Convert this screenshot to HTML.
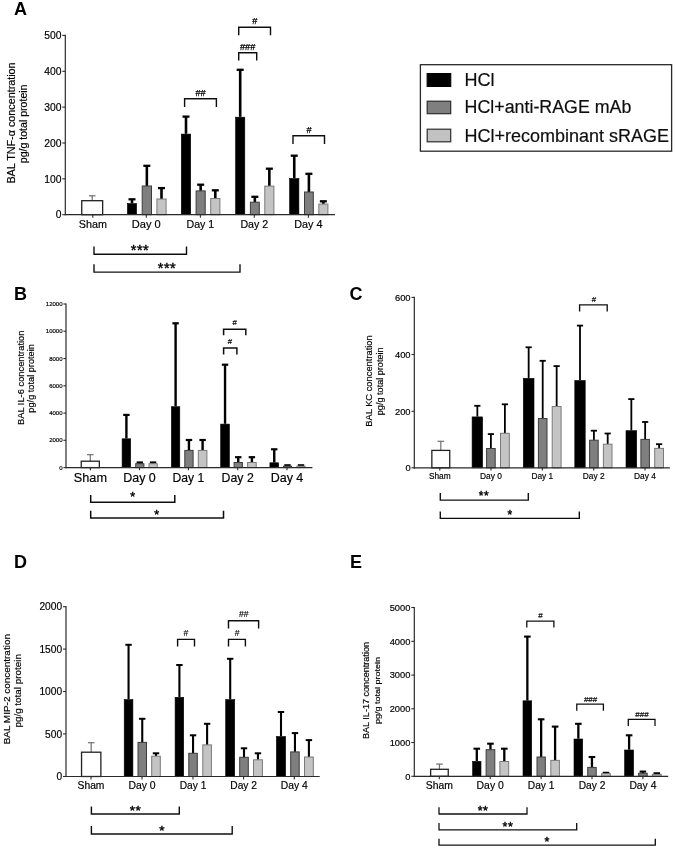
<!DOCTYPE html>
<html lang="en">
<head>
<meta charset="utf-8">
<title>Figure: BAL cytokine concentrations</title>
<style>
html,body{margin:0;padding:0;background:#fff;}
body{width:675px;height:848px;overflow:hidden;}
svg{display:block;font-family:'Liberation Sans', Arial, Helvetica, sans-serif;}
</style>
</head>
<body>
<svg width="675" height="848" viewBox="0 0 675 848" font-family="Liberation Sans, Arial, sans-serif">
<defs><filter id="soft" x="0" y="0" width="675" height="848" filterUnits="userSpaceOnUse"><feGaussianBlur stdDeviation="0.38"/></filter></defs>
<rect width="675" height="848" fill="#ffffff"/>
<g filter="url(#soft)">
<line x1="92.20" y1="200.70" x2="92.20" y2="195.50" stroke="#707070" stroke-width="1.2" stroke-linecap="butt"/>
<line x1="88.90" y1="195.80" x2="95.50" y2="195.80" stroke="#707070" stroke-width="1.2" stroke-linecap="butt"/>
<rect x="81.75" y="200.70" width="20.90" height="14.00" fill="#ffffff" stroke="#222222" stroke-width="1.3"/>
<line x1="132.00" y1="203.20" x2="132.00" y2="199.00" stroke="#000" stroke-width="2.6" stroke-linecap="butt"/>
<line x1="128.50" y1="199.30" x2="135.50" y2="199.30" stroke="#000" stroke-width="2.3" stroke-linecap="butt"/>
<rect x="127.40" y="203.50" width="9.20" height="11.20" fill="#000000" stroke="#000000" stroke-width="0.6"/>
<line x1="146.85" y1="186.00" x2="146.85" y2="165.50" stroke="#000" stroke-width="2.6" stroke-linecap="butt"/>
<line x1="143.35" y1="165.80" x2="150.35" y2="165.80" stroke="#000" stroke-width="2.3" stroke-linecap="butt"/>
<rect x="142.20" y="186.00" width="9.30" height="28.70" fill="#7f7f7f" stroke="#3c3c3c" stroke-width="1.0"/>
<line x1="161.50" y1="199.00" x2="161.50" y2="187.80" stroke="#000" stroke-width="2.6" stroke-linecap="butt"/>
<line x1="158.00" y1="188.10" x2="165.00" y2="188.10" stroke="#000" stroke-width="2.3" stroke-linecap="butt"/>
<rect x="156.90" y="199.00" width="9.20" height="15.70" fill="#c4c4c4" stroke="#7a7a7a" stroke-width="1.0"/>
<line x1="186.00" y1="133.80" x2="186.00" y2="116.30" stroke="#000" stroke-width="2.6" stroke-linecap="butt"/>
<line x1="182.50" y1="116.60" x2="189.50" y2="116.60" stroke="#000" stroke-width="2.3" stroke-linecap="butt"/>
<rect x="181.30" y="134.10" width="9.40" height="80.60" fill="#000000" stroke="#000000" stroke-width="0.6"/>
<line x1="200.65" y1="190.90" x2="200.65" y2="184.40" stroke="#000" stroke-width="2.6" stroke-linecap="butt"/>
<line x1="197.15" y1="184.70" x2="204.15" y2="184.70" stroke="#000" stroke-width="2.3" stroke-linecap="butt"/>
<rect x="196.10" y="190.90" width="9.10" height="23.80" fill="#7f7f7f" stroke="#3c3c3c" stroke-width="1.0"/>
<line x1="215.30" y1="198.50" x2="215.30" y2="190.00" stroke="#000" stroke-width="2.6" stroke-linecap="butt"/>
<line x1="211.80" y1="190.30" x2="218.80" y2="190.30" stroke="#000" stroke-width="2.3" stroke-linecap="butt"/>
<rect x="210.70" y="198.50" width="9.20" height="16.20" fill="#c4c4c4" stroke="#7a7a7a" stroke-width="1.0"/>
<line x1="240.20" y1="116.90" x2="240.20" y2="69.50" stroke="#000" stroke-width="2.6" stroke-linecap="butt"/>
<line x1="236.70" y1="69.80" x2="243.70" y2="69.80" stroke="#000" stroke-width="2.3" stroke-linecap="butt"/>
<rect x="235.60" y="117.20" width="9.20" height="97.50" fill="#000000" stroke="#000000" stroke-width="0.6"/>
<line x1="254.85" y1="202.20" x2="254.85" y2="196.50" stroke="#000" stroke-width="2.6" stroke-linecap="butt"/>
<line x1="251.35" y1="196.80" x2="258.35" y2="196.80" stroke="#000" stroke-width="2.3" stroke-linecap="butt"/>
<rect x="250.40" y="202.20" width="8.90" height="12.50" fill="#7f7f7f" stroke="#3c3c3c" stroke-width="1.0"/>
<line x1="269.35" y1="186.10" x2="269.35" y2="168.40" stroke="#000" stroke-width="2.6" stroke-linecap="butt"/>
<line x1="265.85" y1="168.70" x2="272.85" y2="168.70" stroke="#000" stroke-width="2.3" stroke-linecap="butt"/>
<rect x="264.80" y="186.10" width="9.10" height="28.60" fill="#c4c4c4" stroke="#7a7a7a" stroke-width="1.0"/>
<line x1="294.25" y1="178.20" x2="294.25" y2="155.40" stroke="#000" stroke-width="2.6" stroke-linecap="butt"/>
<line x1="290.75" y1="155.70" x2="297.75" y2="155.70" stroke="#000" stroke-width="2.3" stroke-linecap="butt"/>
<rect x="289.60" y="178.50" width="9.30" height="36.20" fill="#000000" stroke="#000000" stroke-width="0.6"/>
<line x1="308.90" y1="192.00" x2="308.90" y2="173.50" stroke="#000" stroke-width="2.6" stroke-linecap="butt"/>
<line x1="305.40" y1="173.80" x2="312.40" y2="173.80" stroke="#000" stroke-width="2.3" stroke-linecap="butt"/>
<rect x="304.50" y="192.00" width="8.80" height="22.70" fill="#7f7f7f" stroke="#3c3c3c" stroke-width="1.0"/>
<line x1="323.35" y1="204.10" x2="323.35" y2="201.00" stroke="#000" stroke-width="2.6" stroke-linecap="butt"/>
<line x1="319.85" y1="201.30" x2="326.85" y2="201.30" stroke="#000" stroke-width="2.3" stroke-linecap="butt"/>
<rect x="318.80" y="204.10" width="9.10" height="10.60" fill="#c4c4c4" stroke="#7a7a7a" stroke-width="1.0"/>
<line x1="65.30" y1="34.80" x2="65.30" y2="215.30" stroke="#2a2a2a" stroke-width="1.2" stroke-linecap="butt"/>
<line x1="64.70" y1="214.70" x2="335.00" y2="214.70" stroke="#2a2a2a" stroke-width="1.2" stroke-linecap="butt"/>
<line x1="62.30" y1="214.70" x2="65.30" y2="214.70" stroke="#2a2a2a" stroke-width="1.08" stroke-linecap="butt"/>
<text x="61.40" y="218.41" font-size="10.3" text-anchor="end" font-weight="normal" fill="#000" stroke="#000" stroke-width="0.18">0</text>
<line x1="62.30" y1="178.85" x2="65.30" y2="178.85" stroke="#2a2a2a" stroke-width="1.08" stroke-linecap="butt"/>
<text x="61.40" y="182.56" font-size="10.3" text-anchor="end" font-weight="normal" fill="#000" stroke="#000" stroke-width="0.18">100</text>
<line x1="62.30" y1="143.00" x2="65.30" y2="143.00" stroke="#2a2a2a" stroke-width="1.08" stroke-linecap="butt"/>
<text x="61.40" y="146.71" font-size="10.3" text-anchor="end" font-weight="normal" fill="#000" stroke="#000" stroke-width="0.18">200</text>
<line x1="62.30" y1="107.10" x2="65.30" y2="107.10" stroke="#2a2a2a" stroke-width="1.08" stroke-linecap="butt"/>
<text x="61.40" y="110.81" font-size="10.3" text-anchor="end" font-weight="normal" fill="#000" stroke="#000" stroke-width="0.18">300</text>
<line x1="62.30" y1="71.30" x2="65.30" y2="71.30" stroke="#2a2a2a" stroke-width="1.08" stroke-linecap="butt"/>
<text x="61.40" y="75.01" font-size="10.3" text-anchor="end" font-weight="normal" fill="#000" stroke="#000" stroke-width="0.18">400</text>
<line x1="62.30" y1="35.40" x2="65.30" y2="35.40" stroke="#2a2a2a" stroke-width="1.08" stroke-linecap="butt"/>
<text x="61.40" y="39.11" font-size="10.3" text-anchor="end" font-weight="normal" fill="#000" stroke="#000" stroke-width="0.18">500</text>
<line x1="92.80" y1="214.70" x2="92.80" y2="217.70" stroke="#2a2a2a" stroke-width="1.08" stroke-linecap="butt"/>
<text x="92.80" y="228.00" font-size="11" text-anchor="middle" font-weight="normal" fill="#000" textLength="28.20" lengthAdjust="spacingAndGlyphs" stroke="#000" stroke-width="0.18">Sham</text>
<line x1="146.30" y1="214.70" x2="146.30" y2="217.70" stroke="#2a2a2a" stroke-width="1.08" stroke-linecap="butt"/>
<text x="146.30" y="228.00" font-size="11" text-anchor="middle" font-weight="normal" fill="#000" textLength="29.00" lengthAdjust="spacingAndGlyphs" stroke="#000" stroke-width="0.18">Day 0</text>
<line x1="200.40" y1="214.70" x2="200.40" y2="217.70" stroke="#2a2a2a" stroke-width="1.08" stroke-linecap="butt"/>
<text x="200.40" y="228.00" font-size="11" text-anchor="middle" font-weight="normal" fill="#000" textLength="27.80" lengthAdjust="spacingAndGlyphs" stroke="#000" stroke-width="0.18">Day 1</text>
<line x1="254.30" y1="214.70" x2="254.30" y2="217.70" stroke="#2a2a2a" stroke-width="1.08" stroke-linecap="butt"/>
<text x="254.30" y="228.00" font-size="11" text-anchor="middle" font-weight="normal" fill="#000" textLength="27.80" lengthAdjust="spacingAndGlyphs" stroke="#000" stroke-width="0.18">Day 2</text>
<line x1="308.40" y1="214.70" x2="308.40" y2="217.70" stroke="#2a2a2a" stroke-width="1.08" stroke-linecap="butt"/>
<text x="308.40" y="228.00" font-size="11" text-anchor="middle" font-weight="normal" fill="#000" textLength="28.20" lengthAdjust="spacingAndGlyphs" stroke="#000" stroke-width="0.18">Day 4</text>
<polyline points="238.70,35.20 238.70,27.20 270.50,27.20 270.50,35.20" fill="none" stroke="#101010" stroke-width="1.4"/>
<text x="254.80" y="23.95" font-size="9.2" text-anchor="middle" font-weight="normal" fill="#000" stroke="#000" stroke-width="0.25">#</text>
<polyline points="238.70,60.50 238.70,52.70 256.70,52.70 256.70,60.50" fill="none" stroke="#101010" stroke-width="1.4"/>
<text x="247.60" y="49.65" font-size="9.2" text-anchor="middle" font-weight="normal" fill="#000" stroke="#000" stroke-width="0.25">###</text>
<polyline points="184.60,107.00 184.60,98.80 216.40,98.80 216.40,107.00" fill="none" stroke="#101010" stroke-width="1.4"/>
<text x="200.60" y="95.55" font-size="9.2" text-anchor="middle" font-weight="normal" fill="#000" stroke="#000" stroke-width="0.25">##</text>
<polyline points="293.00,144.00 293.00,135.80 324.50,135.80 324.50,144.00" fill="none" stroke="#101010" stroke-width="1.4"/>
<text x="309.00" y="132.65" font-size="9.2" text-anchor="middle" font-weight="normal" fill="#000" stroke="#000" stroke-width="0.25">#</text>
<polyline points="94.00,246.40 94.00,254.30 186.50,254.30 186.50,246.40" fill="none" stroke="#101010" stroke-width="1.4"/>
<text x="140.00" y="255.10" font-size="14.5" text-anchor="middle" font-weight="normal" fill="#000" stroke="#000" stroke-width="0.42" letter-spacing="0.5">***</text>
<polyline points="94.00,264.30 94.00,272.10 240.00,272.10 240.00,264.30" fill="none" stroke="#101010" stroke-width="1.4"/>
<text x="167.00" y="272.90" font-size="14.5" text-anchor="middle" font-weight="normal" fill="#000" stroke="#000" stroke-width="0.42" letter-spacing="0.5">***</text>
<text x="14.00" y="15.10" font-size="18" text-anchor="start" font-weight="bold" fill="#000">A</text>
<text transform="translate(15.10,123.00) rotate(-90)" font-size="10.75" text-anchor="middle" fill="#000" stroke="#000" stroke-width="0.18" textLength="121.20" lengthAdjust="spacingAndGlyphs">BAL TNF-α concentration</text>
<text transform="translate(27.30,123.85) rotate(-90)" font-size="10.75" text-anchor="middle" fill="#000" stroke="#000" stroke-width="0.18" textLength="78.70" lengthAdjust="spacingAndGlyphs">pg/g total protein</text>
<line x1="90.30" y1="461.20" x2="90.30" y2="454.40" stroke="#707070" stroke-width="1.2" stroke-linecap="butt"/>
<line x1="87.00" y1="454.70" x2="93.60" y2="454.70" stroke="#707070" stroke-width="1.2" stroke-linecap="butt"/>
<rect x="81.25" y="461.20" width="18.10" height="6.40" fill="#ffffff" stroke="#222222" stroke-width="1.3"/>
<line x1="126.40" y1="438.50" x2="126.40" y2="414.60" stroke="#000" stroke-width="2.4" stroke-linecap="butt"/>
<line x1="123.20" y1="414.90" x2="129.60" y2="414.90" stroke="#000" stroke-width="2.2" stroke-linecap="butt"/>
<rect x="122.10" y="438.80" width="8.60" height="28.80" fill="#000000" stroke="#000000" stroke-width="0.6"/>
<line x1="139.80" y1="463.70" x2="139.80" y2="462.20" stroke="#000" stroke-width="2.4" stroke-linecap="butt"/>
<line x1="136.60" y1="462.50" x2="143.00" y2="462.50" stroke="#000" stroke-width="2.2" stroke-linecap="butt"/>
<rect x="135.70" y="463.70" width="8.20" height="3.90" fill="#7f7f7f" stroke="#3c3c3c" stroke-width="1.0"/>
<line x1="153.10" y1="463.70" x2="153.10" y2="462.20" stroke="#000" stroke-width="2.4" stroke-linecap="butt"/>
<line x1="149.90" y1="462.50" x2="156.30" y2="462.50" stroke="#000" stroke-width="2.2" stroke-linecap="butt"/>
<rect x="149.00" y="463.70" width="8.20" height="3.90" fill="#c4c4c4" stroke="#7a7a7a" stroke-width="1.0"/>
<line x1="175.60" y1="406.40" x2="175.60" y2="323.00" stroke="#000" stroke-width="2.4" stroke-linecap="butt"/>
<line x1="172.40" y1="323.30" x2="178.80" y2="323.30" stroke="#000" stroke-width="2.2" stroke-linecap="butt"/>
<rect x="171.40" y="406.70" width="8.40" height="60.90" fill="#000000" stroke="#000000" stroke-width="0.6"/>
<line x1="188.95" y1="450.40" x2="188.95" y2="439.70" stroke="#000" stroke-width="2.4" stroke-linecap="butt"/>
<line x1="185.75" y1="440.00" x2="192.15" y2="440.00" stroke="#000" stroke-width="2.2" stroke-linecap="butt"/>
<rect x="184.80" y="450.40" width="8.30" height="17.20" fill="#7f7f7f" stroke="#3c3c3c" stroke-width="1.0"/>
<line x1="202.60" y1="450.40" x2="202.60" y2="439.70" stroke="#000" stroke-width="2.4" stroke-linecap="butt"/>
<line x1="199.40" y1="440.00" x2="205.80" y2="440.00" stroke="#000" stroke-width="2.2" stroke-linecap="butt"/>
<rect x="198.30" y="450.40" width="8.60" height="17.20" fill="#c4c4c4" stroke="#7a7a7a" stroke-width="1.0"/>
<line x1="225.05" y1="423.80" x2="225.05" y2="364.40" stroke="#000" stroke-width="2.4" stroke-linecap="butt"/>
<line x1="221.85" y1="364.70" x2="228.25" y2="364.70" stroke="#000" stroke-width="2.2" stroke-linecap="butt"/>
<rect x="220.70" y="424.10" width="8.70" height="43.50" fill="#000000" stroke="#000000" stroke-width="0.6"/>
<line x1="238.25" y1="462.50" x2="238.25" y2="456.90" stroke="#000" stroke-width="2.4" stroke-linecap="butt"/>
<line x1="235.05" y1="457.20" x2="241.45" y2="457.20" stroke="#000" stroke-width="2.2" stroke-linecap="butt"/>
<rect x="234.10" y="462.50" width="8.30" height="5.10" fill="#7f7f7f" stroke="#3c3c3c" stroke-width="1.0"/>
<line x1="251.90" y1="462.50" x2="251.90" y2="456.90" stroke="#000" stroke-width="2.4" stroke-linecap="butt"/>
<line x1="248.70" y1="457.20" x2="255.10" y2="457.20" stroke="#000" stroke-width="2.2" stroke-linecap="butt"/>
<rect x="247.60" y="462.50" width="8.60" height="5.10" fill="#c4c4c4" stroke="#7a7a7a" stroke-width="1.0"/>
<line x1="274.25" y1="462.50" x2="274.25" y2="449.00" stroke="#000" stroke-width="2.4" stroke-linecap="butt"/>
<line x1="271.05" y1="449.30" x2="277.45" y2="449.30" stroke="#000" stroke-width="2.2" stroke-linecap="butt"/>
<rect x="269.90" y="462.80" width="8.70" height="4.80" fill="#000000" stroke="#000000" stroke-width="0.6"/>
<line x1="287.50" y1="466.20" x2="287.50" y2="465.00" stroke="#000" stroke-width="2.4" stroke-linecap="butt"/>
<line x1="284.30" y1="465.30" x2="290.70" y2="465.30" stroke="#000" stroke-width="2.2" stroke-linecap="butt"/>
<rect x="283.50" y="466.20" width="8.00" height="1.40" fill="#7f7f7f" stroke="#3c3c3c" stroke-width="1.0"/>
<line x1="301.00" y1="466.20" x2="301.00" y2="465.00" stroke="#000" stroke-width="2.4" stroke-linecap="butt"/>
<line x1="297.80" y1="465.30" x2="304.20" y2="465.30" stroke="#000" stroke-width="2.2" stroke-linecap="butt"/>
<rect x="296.90" y="466.20" width="8.20" height="1.40" fill="#c4c4c4" stroke="#7a7a7a" stroke-width="1.0"/>
<line x1="66.00" y1="303.40" x2="66.00" y2="468.20" stroke="#2a2a2a" stroke-width="1.2" stroke-linecap="butt"/>
<line x1="65.40" y1="467.60" x2="312.40" y2="467.60" stroke="#2a2a2a" stroke-width="1.2" stroke-linecap="butt"/>
<line x1="63.40" y1="467.60" x2="66.00" y2="467.60" stroke="#2a2a2a" stroke-width="1.08" stroke-linecap="butt"/>
<text x="62.50" y="469.76" font-size="6.0" text-anchor="end" font-weight="normal" fill="#000" stroke="#000" stroke-width="0.18">0</text>
<line x1="63.40" y1="440.30" x2="66.00" y2="440.30" stroke="#2a2a2a" stroke-width="1.08" stroke-linecap="butt"/>
<text x="62.50" y="442.46" font-size="6.0" text-anchor="end" font-weight="normal" fill="#000" stroke="#000" stroke-width="0.18">2000</text>
<line x1="63.40" y1="413.10" x2="66.00" y2="413.10" stroke="#2a2a2a" stroke-width="1.08" stroke-linecap="butt"/>
<text x="62.50" y="415.26" font-size="6.0" text-anchor="end" font-weight="normal" fill="#000" stroke="#000" stroke-width="0.18">4000</text>
<line x1="63.40" y1="385.80" x2="66.00" y2="385.80" stroke="#2a2a2a" stroke-width="1.08" stroke-linecap="butt"/>
<text x="62.50" y="387.96" font-size="6.0" text-anchor="end" font-weight="normal" fill="#000" stroke="#000" stroke-width="0.18">6000</text>
<line x1="63.40" y1="358.60" x2="66.00" y2="358.60" stroke="#2a2a2a" stroke-width="1.08" stroke-linecap="butt"/>
<text x="62.50" y="360.76" font-size="6.0" text-anchor="end" font-weight="normal" fill="#000" stroke="#000" stroke-width="0.18">8000</text>
<line x1="63.40" y1="331.20" x2="66.00" y2="331.20" stroke="#2a2a2a" stroke-width="1.08" stroke-linecap="butt"/>
<text x="62.50" y="333.36" font-size="6.0" text-anchor="end" font-weight="normal" fill="#000" stroke="#000" stroke-width="0.18">10000</text>
<line x1="63.40" y1="304.00" x2="66.00" y2="304.00" stroke="#2a2a2a" stroke-width="1.08" stroke-linecap="butt"/>
<text x="62.50" y="306.16" font-size="6.0" text-anchor="end" font-weight="normal" fill="#000" stroke="#000" stroke-width="0.18">12000</text>
<line x1="90.40" y1="467.60" x2="90.40" y2="470.20" stroke="#2a2a2a" stroke-width="1.08" stroke-linecap="butt"/>
<text x="90.40" y="482.40" font-size="12.7" text-anchor="middle" font-weight="normal" fill="#000" textLength="33.20" lengthAdjust="spacingAndGlyphs" stroke="#000" stroke-width="0.18">Sham</text>
<line x1="139.50" y1="467.60" x2="139.50" y2="470.20" stroke="#2a2a2a" stroke-width="1.08" stroke-linecap="butt"/>
<text x="139.50" y="482.40" font-size="12.7" text-anchor="middle" font-weight="normal" fill="#000" textLength="32.60" lengthAdjust="spacingAndGlyphs" stroke="#000" stroke-width="0.18">Day 0</text>
<line x1="188.40" y1="467.60" x2="188.40" y2="470.20" stroke="#2a2a2a" stroke-width="1.08" stroke-linecap="butt"/>
<text x="188.40" y="482.40" font-size="12.7" text-anchor="middle" font-weight="normal" fill="#000" textLength="31.80" lengthAdjust="spacingAndGlyphs" stroke="#000" stroke-width="0.18">Day 1</text>
<line x1="237.70" y1="467.60" x2="237.70" y2="470.20" stroke="#2a2a2a" stroke-width="1.08" stroke-linecap="butt"/>
<text x="237.70" y="482.40" font-size="12.7" text-anchor="middle" font-weight="normal" fill="#000" textLength="32.20" lengthAdjust="spacingAndGlyphs" stroke="#000" stroke-width="0.18">Day 2</text>
<line x1="287.00" y1="467.60" x2="287.00" y2="470.20" stroke="#2a2a2a" stroke-width="1.08" stroke-linecap="butt"/>
<text x="287.00" y="482.40" font-size="12.7" text-anchor="middle" font-weight="normal" fill="#000" textLength="32.60" lengthAdjust="spacingAndGlyphs" stroke="#000" stroke-width="0.18">Day 4</text>
<polyline points="223.60,335.30 223.60,329.20 245.80,329.20 245.80,335.30" fill="none" stroke="#101010" stroke-width="1.5"/>
<text x="234.60" y="324.87" font-size="7.8" text-anchor="middle" font-weight="normal" fill="#000" stroke="#000" stroke-width="0.18">#</text>
<polyline points="223.60,354.60 223.60,348.00 236.90,348.00 236.90,354.60" fill="none" stroke="#101010" stroke-width="1.5"/>
<text x="230.00" y="344.17" font-size="7.8" text-anchor="middle" font-weight="normal" fill="#000" stroke="#000" stroke-width="0.18">#</text>
<polyline points="90.70,495.00 90.70,502.30 174.80,502.30 174.80,495.00" fill="none" stroke="#101010" stroke-width="1.5"/>
<text x="132.60" y="501.21" font-size="12.5" text-anchor="middle" font-weight="normal" fill="#000" stroke="#000" stroke-width="0.42">*</text>
<polyline points="90.70,510.80 90.70,518.00 223.50,518.00 223.50,510.80" fill="none" stroke="#101010" stroke-width="1.5"/>
<text x="156.70" y="518.51" font-size="12.5" text-anchor="middle" font-weight="normal" fill="#000" stroke="#000" stroke-width="0.42">*</text>
<text x="14.00" y="300.20" font-size="18" text-anchor="start" font-weight="bold" fill="#000">B</text>
<text transform="translate(23.70,377.80) rotate(-90)" font-size="9.3" text-anchor="middle" fill="#000" stroke="#000" stroke-width="0.18" textLength="94.40" lengthAdjust="spacingAndGlyphs">BAL IL-6 concentration</text>
<text transform="translate(34.30,378.40) rotate(-90)" font-size="9.3" text-anchor="middle" fill="#000" stroke="#000" stroke-width="0.18" textLength="68.50" lengthAdjust="spacingAndGlyphs">pg/g total protein</text>
<line x1="440.80" y1="450.40" x2="440.80" y2="441.00" stroke="#707070" stroke-width="1.2" stroke-linecap="butt"/>
<line x1="437.50" y1="441.30" x2="444.10" y2="441.30" stroke="#707070" stroke-width="1.2" stroke-linecap="butt"/>
<rect x="431.85" y="450.40" width="17.90" height="17.40" fill="#ffffff" stroke="#222222" stroke-width="1.3"/>
<line x1="477.35" y1="416.60" x2="477.35" y2="405.50" stroke="#000" stroke-width="1.8" stroke-linecap="butt"/>
<line x1="474.25" y1="405.80" x2="480.45" y2="405.80" stroke="#000" stroke-width="1.8" stroke-linecap="butt"/>
<rect x="472.10" y="416.90" width="10.50" height="50.90" fill="#000000" stroke="#000000" stroke-width="0.6"/>
<line x1="490.90" y1="448.50" x2="490.90" y2="433.80" stroke="#000" stroke-width="1.8" stroke-linecap="butt"/>
<line x1="487.80" y1="434.10" x2="494.00" y2="434.10" stroke="#000" stroke-width="1.8" stroke-linecap="butt"/>
<rect x="486.60" y="448.50" width="8.60" height="19.30" fill="#7f7f7f" stroke="#3c3c3c" stroke-width="1.0"/>
<line x1="504.90" y1="433.30" x2="504.90" y2="404.00" stroke="#000" stroke-width="1.8" stroke-linecap="butt"/>
<line x1="501.80" y1="404.30" x2="508.00" y2="404.30" stroke="#000" stroke-width="1.8" stroke-linecap="butt"/>
<rect x="500.50" y="433.30" width="8.80" height="34.50" fill="#c4c4c4" stroke="#7a7a7a" stroke-width="1.0"/>
<line x1="528.65" y1="378.00" x2="528.65" y2="347.00" stroke="#000" stroke-width="1.8" stroke-linecap="butt"/>
<line x1="525.55" y1="347.30" x2="531.75" y2="347.30" stroke="#000" stroke-width="1.8" stroke-linecap="butt"/>
<rect x="523.30" y="378.30" width="10.70" height="89.50" fill="#000000" stroke="#000000" stroke-width="0.6"/>
<line x1="542.70" y1="418.50" x2="542.70" y2="360.50" stroke="#000" stroke-width="1.8" stroke-linecap="butt"/>
<line x1="539.60" y1="360.80" x2="545.80" y2="360.80" stroke="#000" stroke-width="1.8" stroke-linecap="butt"/>
<rect x="538.40" y="418.50" width="8.60" height="49.30" fill="#7f7f7f" stroke="#3c3c3c" stroke-width="1.0"/>
<line x1="556.65" y1="406.50" x2="556.65" y2="365.80" stroke="#000" stroke-width="1.8" stroke-linecap="butt"/>
<line x1="553.55" y1="366.10" x2="559.75" y2="366.10" stroke="#000" stroke-width="1.8" stroke-linecap="butt"/>
<rect x="552.20" y="406.50" width="8.90" height="61.30" fill="#c4c4c4" stroke="#7a7a7a" stroke-width="1.0"/>
<line x1="580.00" y1="380.20" x2="580.00" y2="325.30" stroke="#000" stroke-width="1.8" stroke-linecap="butt"/>
<line x1="576.90" y1="325.60" x2="583.10" y2="325.60" stroke="#000" stroke-width="1.8" stroke-linecap="butt"/>
<rect x="574.80" y="380.50" width="10.40" height="87.30" fill="#000000" stroke="#000000" stroke-width="0.6"/>
<line x1="593.90" y1="440.20" x2="593.90" y2="430.40" stroke="#000" stroke-width="1.8" stroke-linecap="butt"/>
<line x1="590.80" y1="430.70" x2="597.00" y2="430.70" stroke="#000" stroke-width="1.8" stroke-linecap="butt"/>
<rect x="589.60" y="440.20" width="8.60" height="27.60" fill="#7f7f7f" stroke="#3c3c3c" stroke-width="1.0"/>
<line x1="607.70" y1="444.20" x2="607.70" y2="433.20" stroke="#000" stroke-width="1.8" stroke-linecap="butt"/>
<line x1="604.60" y1="433.50" x2="610.80" y2="433.50" stroke="#000" stroke-width="1.8" stroke-linecap="butt"/>
<rect x="603.40" y="444.20" width="8.60" height="23.60" fill="#c4c4c4" stroke="#7a7a7a" stroke-width="1.0"/>
<line x1="631.35" y1="430.40" x2="631.35" y2="398.80" stroke="#000" stroke-width="1.8" stroke-linecap="butt"/>
<line x1="628.25" y1="399.10" x2="634.45" y2="399.10" stroke="#000" stroke-width="1.8" stroke-linecap="butt"/>
<rect x="626.00" y="430.70" width="10.70" height="37.10" fill="#000000" stroke="#000000" stroke-width="0.6"/>
<line x1="645.15" y1="439.40" x2="645.15" y2="421.70" stroke="#000" stroke-width="1.8" stroke-linecap="butt"/>
<line x1="642.05" y1="422.00" x2="648.25" y2="422.00" stroke="#000" stroke-width="1.8" stroke-linecap="butt"/>
<rect x="640.90" y="439.40" width="8.50" height="28.40" fill="#7f7f7f" stroke="#3c3c3c" stroke-width="1.0"/>
<line x1="659.10" y1="448.40" x2="659.10" y2="443.90" stroke="#000" stroke-width="1.8" stroke-linecap="butt"/>
<line x1="656.00" y1="444.20" x2="662.20" y2="444.20" stroke="#000" stroke-width="1.8" stroke-linecap="butt"/>
<rect x="654.70" y="448.40" width="8.80" height="19.40" fill="#c4c4c4" stroke="#7a7a7a" stroke-width="1.0"/>
<line x1="414.30" y1="296.80" x2="414.30" y2="468.40" stroke="#2a2a2a" stroke-width="1.2" stroke-linecap="butt"/>
<line x1="413.70" y1="467.80" x2="669.90" y2="467.80" stroke="#2a2a2a" stroke-width="1.2" stroke-linecap="butt"/>
<line x1="411.50" y1="467.80" x2="414.30" y2="467.80" stroke="#2a2a2a" stroke-width="1.08" stroke-linecap="butt"/>
<text x="410.60" y="471.18" font-size="9.4" text-anchor="end" font-weight="normal" fill="#000" stroke="#000" stroke-width="0.18">0</text>
<line x1="411.50" y1="411.30" x2="414.30" y2="411.30" stroke="#2a2a2a" stroke-width="1.08" stroke-linecap="butt"/>
<text x="410.60" y="414.68" font-size="9.4" text-anchor="end" font-weight="normal" fill="#000" stroke="#000" stroke-width="0.18">200</text>
<line x1="411.50" y1="354.50" x2="414.30" y2="354.50" stroke="#2a2a2a" stroke-width="1.08" stroke-linecap="butt"/>
<text x="410.60" y="357.88" font-size="9.4" text-anchor="end" font-weight="normal" fill="#000" stroke="#000" stroke-width="0.18">400</text>
<line x1="411.50" y1="297.40" x2="414.30" y2="297.40" stroke="#2a2a2a" stroke-width="1.08" stroke-linecap="butt"/>
<text x="410.60" y="300.78" font-size="9.4" text-anchor="end" font-weight="normal" fill="#000" stroke="#000" stroke-width="0.18">600</text>
<line x1="439.80" y1="467.80" x2="439.80" y2="470.60" stroke="#2a2a2a" stroke-width="1.08" stroke-linecap="butt"/>
<text x="439.80" y="479.10" font-size="8.3" text-anchor="middle" font-weight="normal" fill="#000" textLength="21.70" lengthAdjust="spacingAndGlyphs" stroke="#000" stroke-width="0.18">Sham</text>
<line x1="491.00" y1="467.80" x2="491.00" y2="470.60" stroke="#2a2a2a" stroke-width="1.08" stroke-linecap="butt"/>
<text x="491.00" y="479.10" font-size="8.3" text-anchor="middle" font-weight="normal" fill="#000" textLength="21.90" lengthAdjust="spacingAndGlyphs" stroke="#000" stroke-width="0.18">Day 0</text>
<line x1="542.30" y1="467.80" x2="542.30" y2="470.60" stroke="#2a2a2a" stroke-width="1.08" stroke-linecap="butt"/>
<text x="542.30" y="479.10" font-size="8.3" text-anchor="middle" font-weight="normal" fill="#000" textLength="21.70" lengthAdjust="spacingAndGlyphs" stroke="#000" stroke-width="0.18">Day 1</text>
<line x1="593.70" y1="467.80" x2="593.70" y2="470.60" stroke="#2a2a2a" stroke-width="1.08" stroke-linecap="butt"/>
<text x="593.70" y="479.10" font-size="8.3" text-anchor="middle" font-weight="normal" fill="#000" textLength="21.70" lengthAdjust="spacingAndGlyphs" stroke="#000" stroke-width="0.18">Day 2</text>
<line x1="645.00" y1="467.80" x2="645.00" y2="470.60" stroke="#2a2a2a" stroke-width="1.08" stroke-linecap="butt"/>
<text x="645.00" y="479.10" font-size="8.3" text-anchor="middle" font-weight="normal" fill="#000" textLength="21.90" lengthAdjust="spacingAndGlyphs" stroke="#000" stroke-width="0.18">Day 4</text>
<polyline points="579.60,311.50 579.60,304.80 607.20,304.80 607.20,311.50" fill="none" stroke="#101010" stroke-width="1.35"/>
<text x="593.90" y="301.77" font-size="7.8" text-anchor="middle" font-weight="normal" fill="#000" stroke="#000" stroke-width="0.18">#</text>
<polyline points="440.30,493.00 440.30,500.10 528.30,500.10 528.30,493.00" fill="none" stroke="#101010" stroke-width="1.35"/>
<text x="484.00" y="500.30" font-size="12" text-anchor="middle" font-weight="normal" fill="#000" stroke="#000" stroke-width="0.42" letter-spacing="0.5">**</text>
<polyline points="440.30,511.40 440.30,518.30 579.30,518.30 579.30,511.40" fill="none" stroke="#101010" stroke-width="1.35"/>
<text x="509.80" y="518.50" font-size="12" text-anchor="middle" font-weight="normal" fill="#000" stroke="#000" stroke-width="0.42">*</text>
<text x="349.50" y="299.70" font-size="18" text-anchor="start" font-weight="bold" fill="#000">C</text>
<text transform="translate(371.80,381.00) rotate(-90)" font-size="9.3" text-anchor="middle" fill="#000" stroke="#000" stroke-width="0.18" textLength="91.50" lengthAdjust="spacingAndGlyphs">BAL KC concentration</text>
<text transform="translate(382.60,381.30) rotate(-90)" font-size="9.3" text-anchor="middle" fill="#000" stroke="#000" stroke-width="0.18" textLength="67.80" lengthAdjust="spacingAndGlyphs">pg/g total protein</text>
<line x1="91.20" y1="752.20" x2="91.20" y2="742.40" stroke="#707070" stroke-width="1.2" stroke-linecap="butt"/>
<line x1="87.90" y1="742.70" x2="94.50" y2="742.70" stroke="#707070" stroke-width="1.2" stroke-linecap="butt"/>
<rect x="81.55" y="752.20" width="19.30" height="24.30" fill="#ffffff" stroke="#222222" stroke-width="1.3"/>
<line x1="128.55" y1="699.30" x2="128.55" y2="644.50" stroke="#000" stroke-width="2.1" stroke-linecap="butt"/>
<line x1="125.35" y1="644.80" x2="131.75" y2="644.80" stroke="#000" stroke-width="2.0" stroke-linecap="butt"/>
<rect x="124.20" y="699.60" width="8.70" height="76.90" fill="#000000" stroke="#000000" stroke-width="0.6"/>
<line x1="142.25" y1="742.40" x2="142.25" y2="718.50" stroke="#000" stroke-width="2.1" stroke-linecap="butt"/>
<line x1="139.05" y1="718.80" x2="145.45" y2="718.80" stroke="#000" stroke-width="2.0" stroke-linecap="butt"/>
<rect x="138.00" y="742.40" width="8.50" height="34.10" fill="#7f7f7f" stroke="#3c3c3c" stroke-width="1.0"/>
<line x1="156.00" y1="756.20" x2="156.00" y2="753.00" stroke="#000" stroke-width="2.1" stroke-linecap="butt"/>
<line x1="152.80" y1="753.30" x2="159.20" y2="753.30" stroke="#000" stroke-width="2.0" stroke-linecap="butt"/>
<rect x="151.70" y="756.20" width="8.60" height="20.30" fill="#c4c4c4" stroke="#7a7a7a" stroke-width="1.0"/>
<line x1="179.40" y1="697.00" x2="179.40" y2="664.70" stroke="#000" stroke-width="2.1" stroke-linecap="butt"/>
<line x1="176.20" y1="665.00" x2="182.60" y2="665.00" stroke="#000" stroke-width="2.0" stroke-linecap="butt"/>
<rect x="175.10" y="697.30" width="8.60" height="79.20" fill="#000000" stroke="#000000" stroke-width="0.6"/>
<line x1="193.05" y1="753.30" x2="193.05" y2="735.00" stroke="#000" stroke-width="2.1" stroke-linecap="butt"/>
<line x1="189.85" y1="735.30" x2="196.25" y2="735.30" stroke="#000" stroke-width="2.0" stroke-linecap="butt"/>
<rect x="188.80" y="753.30" width="8.50" height="23.20" fill="#7f7f7f" stroke="#3c3c3c" stroke-width="1.0"/>
<line x1="207.10" y1="744.90" x2="207.10" y2="723.50" stroke="#000" stroke-width="2.1" stroke-linecap="butt"/>
<line x1="203.90" y1="723.80" x2="210.30" y2="723.80" stroke="#000" stroke-width="2.0" stroke-linecap="butt"/>
<rect x="202.80" y="744.90" width="8.60" height="31.60" fill="#c4c4c4" stroke="#7a7a7a" stroke-width="1.0"/>
<line x1="230.20" y1="699.30" x2="230.20" y2="658.50" stroke="#000" stroke-width="2.1" stroke-linecap="butt"/>
<line x1="227.00" y1="658.80" x2="233.40" y2="658.80" stroke="#000" stroke-width="2.0" stroke-linecap="butt"/>
<rect x="225.70" y="699.60" width="9.00" height="76.90" fill="#000000" stroke="#000000" stroke-width="0.6"/>
<line x1="244.00" y1="757.30" x2="244.00" y2="748.00" stroke="#000" stroke-width="2.1" stroke-linecap="butt"/>
<line x1="240.80" y1="748.30" x2="247.20" y2="748.30" stroke="#000" stroke-width="2.0" stroke-linecap="butt"/>
<rect x="239.70" y="757.30" width="8.60" height="19.20" fill="#7f7f7f" stroke="#3c3c3c" stroke-width="1.0"/>
<line x1="257.95" y1="759.80" x2="257.95" y2="753.00" stroke="#000" stroke-width="2.1" stroke-linecap="butt"/>
<line x1="254.75" y1="753.30" x2="261.15" y2="753.30" stroke="#000" stroke-width="2.0" stroke-linecap="butt"/>
<rect x="253.50" y="759.80" width="8.90" height="16.70" fill="#c4c4c4" stroke="#7a7a7a" stroke-width="1.0"/>
<line x1="281.00" y1="736.20" x2="281.00" y2="711.70" stroke="#000" stroke-width="2.1" stroke-linecap="butt"/>
<line x1="277.80" y1="712.00" x2="284.20" y2="712.00" stroke="#000" stroke-width="2.0" stroke-linecap="butt"/>
<rect x="276.40" y="736.50" width="9.20" height="40.00" fill="#000000" stroke="#000000" stroke-width="0.6"/>
<line x1="294.95" y1="751.90" x2="294.95" y2="732.80" stroke="#000" stroke-width="2.1" stroke-linecap="butt"/>
<line x1="291.75" y1="733.10" x2="298.15" y2="733.10" stroke="#000" stroke-width="2.0" stroke-linecap="butt"/>
<rect x="290.70" y="751.90" width="8.50" height="24.60" fill="#7f7f7f" stroke="#3c3c3c" stroke-width="1.0"/>
<line x1="308.90" y1="757.00" x2="308.90" y2="739.80" stroke="#000" stroke-width="2.1" stroke-linecap="butt"/>
<line x1="305.70" y1="740.10" x2="312.10" y2="740.10" stroke="#000" stroke-width="2.0" stroke-linecap="butt"/>
<rect x="304.50" y="757.00" width="8.80" height="19.50" fill="#c4c4c4" stroke="#7a7a7a" stroke-width="1.0"/>
<line x1="66.00" y1="606.10" x2="66.00" y2="777.10" stroke="#2a2a2a" stroke-width="1.2" stroke-linecap="butt"/>
<line x1="65.40" y1="776.50" x2="319.70" y2="776.50" stroke="#2a2a2a" stroke-width="1.2" stroke-linecap="butt"/>
<line x1="63.00" y1="776.50" x2="66.00" y2="776.50" stroke="#2a2a2a" stroke-width="1.08" stroke-linecap="butt"/>
<text x="62.10" y="780.17" font-size="10.2" text-anchor="end" font-weight="normal" fill="#000" stroke="#000" stroke-width="0.18">0</text>
<line x1="63.00" y1="733.90" x2="66.00" y2="733.90" stroke="#2a2a2a" stroke-width="1.08" stroke-linecap="butt"/>
<text x="62.10" y="737.57" font-size="10.2" text-anchor="end" font-weight="normal" fill="#000" stroke="#000" stroke-width="0.18">500</text>
<line x1="63.00" y1="691.50" x2="66.00" y2="691.50" stroke="#2a2a2a" stroke-width="1.08" stroke-linecap="butt"/>
<text x="62.10" y="695.17" font-size="10.2" text-anchor="end" font-weight="normal" fill="#000" stroke="#000" stroke-width="0.18">1000</text>
<line x1="63.00" y1="649.10" x2="66.00" y2="649.10" stroke="#2a2a2a" stroke-width="1.08" stroke-linecap="butt"/>
<text x="62.10" y="652.77" font-size="10.2" text-anchor="end" font-weight="normal" fill="#000" stroke="#000" stroke-width="0.18">1500</text>
<line x1="63.00" y1="606.70" x2="66.00" y2="606.70" stroke="#2a2a2a" stroke-width="1.08" stroke-linecap="butt"/>
<text x="62.10" y="610.37" font-size="10.2" text-anchor="end" font-weight="normal" fill="#000" stroke="#000" stroke-width="0.18">2000</text>
<line x1="91.00" y1="776.50" x2="91.00" y2="779.50" stroke="#2a2a2a" stroke-width="1.08" stroke-linecap="butt"/>
<text x="91.00" y="789.20" font-size="10.3" text-anchor="middle" font-weight="normal" fill="#000" textLength="26.90" lengthAdjust="spacingAndGlyphs" stroke="#000" stroke-width="0.18">Sham</text>
<line x1="142.00" y1="776.50" x2="142.00" y2="779.50" stroke="#2a2a2a" stroke-width="1.08" stroke-linecap="butt"/>
<text x="142.00" y="789.20" font-size="10.3" text-anchor="middle" font-weight="normal" fill="#000" textLength="27.20" lengthAdjust="spacingAndGlyphs" stroke="#000" stroke-width="0.18">Day 0</text>
<line x1="193.00" y1="776.50" x2="193.00" y2="779.50" stroke="#2a2a2a" stroke-width="1.08" stroke-linecap="butt"/>
<text x="193.00" y="789.20" font-size="10.3" text-anchor="middle" font-weight="normal" fill="#000" textLength="26.70" lengthAdjust="spacingAndGlyphs" stroke="#000" stroke-width="0.18">Day 1</text>
<line x1="243.60" y1="776.50" x2="243.60" y2="779.50" stroke="#2a2a2a" stroke-width="1.08" stroke-linecap="butt"/>
<text x="243.60" y="789.20" font-size="10.3" text-anchor="middle" font-weight="normal" fill="#000" textLength="26.70" lengthAdjust="spacingAndGlyphs" stroke="#000" stroke-width="0.18">Day 2</text>
<line x1="294.30" y1="776.50" x2="294.30" y2="779.50" stroke="#2a2a2a" stroke-width="1.08" stroke-linecap="butt"/>
<text x="294.30" y="789.20" font-size="10.3" text-anchor="middle" font-weight="normal" fill="#000" textLength="27.00" lengthAdjust="spacingAndGlyphs" stroke="#000" stroke-width="0.18">Day 4</text>
<polyline points="228.50,628.40 228.50,620.80 258.60,620.80 258.60,628.40" fill="none" stroke="#101010" stroke-width="1.4"/>
<text x="243.70" y="617.24" font-size="8.6" text-anchor="middle" font-weight="normal" fill="#000" stroke="#000" stroke-width="0.15">##</text>
<polyline points="228.50,646.40 228.50,639.40 245.40,639.40 245.40,646.40" fill="none" stroke="#101010" stroke-width="1.4"/>
<text x="237.20" y="636.14" font-size="8.6" text-anchor="middle" font-weight="normal" fill="#000" stroke="#000" stroke-width="0.15">#</text>
<polyline points="177.60,646.40 177.60,639.40 194.50,639.40 194.50,646.40" fill="none" stroke="#101010" stroke-width="1.4"/>
<text x="186.00" y="636.14" font-size="8.6" text-anchor="middle" font-weight="normal" fill="#000" stroke="#000" stroke-width="0.15">#</text>
<polyline points="91.40,806.40 91.40,814.00 179.30,814.00 179.30,806.40" fill="none" stroke="#101010" stroke-width="1.4"/>
<text x="135.50" y="814.60" font-size="13.5" text-anchor="middle" font-weight="normal" fill="#000" stroke="#000" stroke-width="0.42" letter-spacing="0.5">**</text>
<polyline points="91.40,826.00 91.40,834.00 232.20,834.00 232.20,826.00" fill="none" stroke="#101010" stroke-width="1.4"/>
<text x="162.00" y="834.60" font-size="13.5" text-anchor="middle" font-weight="normal" fill="#000" stroke="#000" stroke-width="0.42">*</text>
<text x="14.00" y="568.20" font-size="18" text-anchor="start" font-weight="bold" fill="#000">D</text>
<text transform="translate(9.50,689.20) rotate(-90)" font-size="9.95" text-anchor="middle" fill="#000" stroke="#000" stroke-width="0.18" textLength="110.30" lengthAdjust="spacingAndGlyphs">BAL MIP-2 concentration</text>
<text transform="translate(21.40,690.80) rotate(-90)" font-size="9.95" text-anchor="middle" fill="#000" stroke="#000" stroke-width="0.18" textLength="73.60" lengthAdjust="spacingAndGlyphs">pg/g total protein</text>
<line x1="439.45" y1="769.30" x2="439.45" y2="763.80" stroke="#707070" stroke-width="1.2" stroke-linecap="butt"/>
<line x1="436.15" y1="764.10" x2="442.75" y2="764.10" stroke="#707070" stroke-width="1.2" stroke-linecap="butt"/>
<rect x="430.65" y="769.30" width="17.60" height="7.00" fill="#ffffff" stroke="#222222" stroke-width="1.3"/>
<line x1="476.80" y1="761.00" x2="476.80" y2="748.40" stroke="#000" stroke-width="2.3" stroke-linecap="butt"/>
<line x1="473.50" y1="748.70" x2="480.10" y2="748.70" stroke="#000" stroke-width="2.1" stroke-linecap="butt"/>
<rect x="472.60" y="761.30" width="8.40" height="15.00" fill="#000000" stroke="#000000" stroke-width="0.6"/>
<line x1="490.45" y1="749.70" x2="490.45" y2="743.40" stroke="#000" stroke-width="2.3" stroke-linecap="butt"/>
<line x1="487.15" y1="743.70" x2="493.75" y2="743.70" stroke="#000" stroke-width="2.1" stroke-linecap="butt"/>
<rect x="486.10" y="749.70" width="8.70" height="26.60" fill="#7f7f7f" stroke="#3c3c3c" stroke-width="1.0"/>
<line x1="504.30" y1="761.50" x2="504.30" y2="748.40" stroke="#000" stroke-width="2.3" stroke-linecap="butt"/>
<line x1="501.00" y1="748.70" x2="507.60" y2="748.70" stroke="#000" stroke-width="2.1" stroke-linecap="butt"/>
<rect x="499.90" y="761.50" width="8.80" height="14.80" fill="#c4c4c4" stroke="#7a7a7a" stroke-width="1.0"/>
<line x1="527.35" y1="700.50" x2="527.35" y2="636.30" stroke="#000" stroke-width="2.3" stroke-linecap="butt"/>
<line x1="524.05" y1="636.60" x2="530.65" y2="636.60" stroke="#000" stroke-width="2.1" stroke-linecap="butt"/>
<rect x="523.00" y="700.80" width="8.70" height="75.50" fill="#000000" stroke="#000000" stroke-width="0.6"/>
<line x1="541.15" y1="757.00" x2="541.15" y2="719.00" stroke="#000" stroke-width="2.3" stroke-linecap="butt"/>
<line x1="537.85" y1="719.30" x2="544.45" y2="719.30" stroke="#000" stroke-width="2.1" stroke-linecap="butt"/>
<rect x="537.00" y="757.00" width="8.30" height="19.30" fill="#7f7f7f" stroke="#3c3c3c" stroke-width="1.0"/>
<line x1="555.10" y1="760.40" x2="555.10" y2="726.30" stroke="#000" stroke-width="2.3" stroke-linecap="butt"/>
<line x1="551.80" y1="726.60" x2="558.40" y2="726.60" stroke="#000" stroke-width="2.1" stroke-linecap="butt"/>
<rect x="550.80" y="760.40" width="8.60" height="15.90" fill="#c4c4c4" stroke="#7a7a7a" stroke-width="1.0"/>
<line x1="578.35" y1="738.70" x2="578.35" y2="723.50" stroke="#000" stroke-width="2.3" stroke-linecap="butt"/>
<line x1="575.05" y1="723.80" x2="581.65" y2="723.80" stroke="#000" stroke-width="2.1" stroke-linecap="butt"/>
<rect x="574.00" y="739.00" width="8.70" height="37.30" fill="#000000" stroke="#000000" stroke-width="0.6"/>
<line x1="591.95" y1="767.40" x2="591.95" y2="756.70" stroke="#000" stroke-width="2.3" stroke-linecap="butt"/>
<line x1="588.65" y1="757.00" x2="595.25" y2="757.00" stroke="#000" stroke-width="2.1" stroke-linecap="butt"/>
<rect x="587.70" y="767.40" width="8.50" height="8.90" fill="#7f7f7f" stroke="#3c3c3c" stroke-width="1.0"/>
<line x1="606.00" y1="773.60" x2="606.00" y2="772.50" stroke="#000" stroke-width="2.3" stroke-linecap="butt"/>
<line x1="602.70" y1="772.80" x2="609.30" y2="772.80" stroke="#000" stroke-width="2.1" stroke-linecap="butt"/>
<rect x="601.70" y="773.60" width="8.60" height="2.70" fill="#c4c4c4" stroke="#7a7a7a" stroke-width="1.0"/>
<line x1="629.10" y1="749.70" x2="629.10" y2="735.00" stroke="#000" stroke-width="2.3" stroke-linecap="butt"/>
<line x1="625.80" y1="735.30" x2="632.40" y2="735.30" stroke="#000" stroke-width="2.1" stroke-linecap="butt"/>
<rect x="624.60" y="750.00" width="9.00" height="26.30" fill="#000000" stroke="#000000" stroke-width="0.6"/>
<line x1="642.90" y1="773.30" x2="642.90" y2="771.30" stroke="#000" stroke-width="2.3" stroke-linecap="butt"/>
<line x1="639.60" y1="771.60" x2="646.20" y2="771.60" stroke="#000" stroke-width="2.1" stroke-linecap="butt"/>
<rect x="638.60" y="773.30" width="8.60" height="3.00" fill="#7f7f7f" stroke="#3c3c3c" stroke-width="1.0"/>
<line x1="656.80" y1="774.40" x2="656.80" y2="773.00" stroke="#000" stroke-width="2.3" stroke-linecap="butt"/>
<line x1="653.50" y1="773.30" x2="660.10" y2="773.30" stroke="#000" stroke-width="2.1" stroke-linecap="butt"/>
<rect x="652.40" y="774.40" width="8.80" height="1.90" fill="#c4c4c4" stroke="#7a7a7a" stroke-width="1.0"/>
<line x1="414.30" y1="606.90" x2="414.30" y2="776.90" stroke="#2a2a2a" stroke-width="1.2" stroke-linecap="butt"/>
<line x1="413.70" y1="776.30" x2="668.20" y2="776.30" stroke="#2a2a2a" stroke-width="1.2" stroke-linecap="butt"/>
<line x1="411.30" y1="776.30" x2="414.30" y2="776.30" stroke="#2a2a2a" stroke-width="1.08" stroke-linecap="butt"/>
<text x="410.40" y="779.65" font-size="9.3" text-anchor="end" font-weight="normal" fill="#000" stroke="#000" stroke-width="0.18">0</text>
<line x1="411.30" y1="742.50" x2="414.30" y2="742.50" stroke="#2a2a2a" stroke-width="1.08" stroke-linecap="butt"/>
<text x="410.40" y="745.85" font-size="9.3" text-anchor="end" font-weight="normal" fill="#000" stroke="#000" stroke-width="0.18">1000</text>
<line x1="411.30" y1="708.80" x2="414.30" y2="708.80" stroke="#2a2a2a" stroke-width="1.08" stroke-linecap="butt"/>
<text x="410.40" y="712.15" font-size="9.3" text-anchor="end" font-weight="normal" fill="#000" stroke="#000" stroke-width="0.18">2000</text>
<line x1="411.30" y1="675.10" x2="414.30" y2="675.10" stroke="#2a2a2a" stroke-width="1.08" stroke-linecap="butt"/>
<text x="410.40" y="678.45" font-size="9.3" text-anchor="end" font-weight="normal" fill="#000" stroke="#000" stroke-width="0.18">3000</text>
<line x1="411.30" y1="641.30" x2="414.30" y2="641.30" stroke="#2a2a2a" stroke-width="1.08" stroke-linecap="butt"/>
<text x="410.40" y="644.65" font-size="9.3" text-anchor="end" font-weight="normal" fill="#000" stroke="#000" stroke-width="0.18">4000</text>
<line x1="411.30" y1="607.50" x2="414.30" y2="607.50" stroke="#2a2a2a" stroke-width="1.08" stroke-linecap="butt"/>
<text x="410.40" y="610.85" font-size="9.3" text-anchor="end" font-weight="normal" fill="#000" stroke="#000" stroke-width="0.18">5000</text>
<line x1="439.30" y1="776.30" x2="439.30" y2="779.30" stroke="#2a2a2a" stroke-width="1.08" stroke-linecap="butt"/>
<text x="439.30" y="789.30" font-size="10.3" text-anchor="middle" font-weight="normal" fill="#000" textLength="27.20" lengthAdjust="spacingAndGlyphs" stroke="#000" stroke-width="0.18">Sham</text>
<line x1="490.20" y1="776.30" x2="490.20" y2="779.30" stroke="#2a2a2a" stroke-width="1.08" stroke-linecap="butt"/>
<text x="490.20" y="789.30" font-size="10.3" text-anchor="middle" font-weight="normal" fill="#000" textLength="27.20" lengthAdjust="spacingAndGlyphs" stroke="#000" stroke-width="0.18">Day 0</text>
<line x1="541.10" y1="776.30" x2="541.10" y2="779.30" stroke="#2a2a2a" stroke-width="1.08" stroke-linecap="butt"/>
<text x="541.10" y="789.30" font-size="10.3" text-anchor="middle" font-weight="normal" fill="#000" textLength="26.70" lengthAdjust="spacingAndGlyphs" stroke="#000" stroke-width="0.18">Day 1</text>
<line x1="592.00" y1="776.30" x2="592.00" y2="779.30" stroke="#2a2a2a" stroke-width="1.08" stroke-linecap="butt"/>
<text x="592.00" y="789.30" font-size="10.3" text-anchor="middle" font-weight="normal" fill="#000" textLength="26.70" lengthAdjust="spacingAndGlyphs" stroke="#000" stroke-width="0.18">Day 2</text>
<line x1="642.90" y1="776.30" x2="642.90" y2="779.30" stroke="#2a2a2a" stroke-width="1.08" stroke-linecap="butt"/>
<text x="642.90" y="789.30" font-size="10.3" text-anchor="middle" font-weight="normal" fill="#000" textLength="27.00" lengthAdjust="spacingAndGlyphs" stroke="#000" stroke-width="0.18">Day 4</text>
<polyline points="526.80,627.50 526.80,621.10 553.90,621.10 553.90,627.50" fill="none" stroke="#101010" stroke-width="1.3"/>
<text x="540.60" y="618.14" font-size="8.0" text-anchor="middle" font-weight="normal" fill="#000" stroke="#000" stroke-width="0.18">#</text>
<polyline points="576.80,710.80 576.80,704.20 603.40,704.20 603.40,710.80" fill="none" stroke="#101010" stroke-width="1.3"/>
<text x="590.60" y="701.64" font-size="8.0" text-anchor="middle" font-weight="normal" fill="#000" stroke="#000" stroke-width="0.18">###</text>
<polyline points="628.30,726.00 628.30,719.40 655.00,719.40 655.00,726.00" fill="none" stroke="#101010" stroke-width="1.3"/>
<text x="642.00" y="717.14" font-size="8.0" text-anchor="middle" font-weight="normal" fill="#000" stroke="#000" stroke-width="0.18">###</text>
<polyline points="439.00,807.20 439.00,814.00 527.00,814.00 527.00,807.20" fill="none" stroke="#101010" stroke-width="1.3"/>
<text x="483.00" y="815.20" font-size="12.5" text-anchor="middle" font-weight="normal" fill="#000" stroke="#000" stroke-width="0.42" letter-spacing="0.5">**</text>
<polyline points="439.00,822.90 439.00,829.80 576.70,829.80 576.70,822.90" fill="none" stroke="#101010" stroke-width="1.3"/>
<text x="507.90" y="831.00" font-size="12.5" text-anchor="middle" font-weight="normal" fill="#000" stroke="#000" stroke-width="0.42" letter-spacing="0.5">**</text>
<polyline points="439.00,838.80 439.00,845.20 655.30,845.20 655.30,838.80" fill="none" stroke="#101010" stroke-width="1.3"/>
<text x="547.00" y="846.40" font-size="12.5" text-anchor="middle" font-weight="normal" fill="#000" stroke="#000" stroke-width="0.42">*</text>
<text x="350.10" y="568.20" font-size="18" text-anchor="start" font-weight="bold" fill="#000">E</text>
<text transform="translate(369.40,690.50) rotate(-90)" font-size="9.3" text-anchor="middle" fill="#000" stroke="#000" stroke-width="0.18" textLength="97.00" lengthAdjust="spacingAndGlyphs">BAL IL-17 concentration</text>
<text transform="translate(379.50,690.50) rotate(-90)" font-size="8.0" text-anchor="middle" fill="#000" stroke="#000" stroke-width="0.18" textLength="67.20" lengthAdjust="spacingAndGlyphs">pg/g total protein</text>
<rect x="420.4" y="64.7" width="251.2" height="86.5" fill="#fff" stroke="#2a2a2a" stroke-width="1.3"/>
<rect x="427.2" y="73.6" width="23.5" height="12.8" fill="#000" stroke="#000" stroke-width="1.2"/>
<rect x="427.2" y="101.2" width="23.5" height="12.5" fill="#7f7f7f" stroke="#2e2e2e" stroke-width="1.2"/>
<rect x="427.2" y="129.2" width="23.5" height="12.6" fill="#c2c2c2" stroke="#2e2e2e" stroke-width="1.2"/>
<text x="464.60" y="86.20" font-size="18" text-anchor="start" font-weight="normal" fill="#111" stroke="#000" stroke-width="0.18">HCl</text>
<text x="464.60" y="113.20" font-size="18" text-anchor="start" font-weight="normal" fill="#111" textLength="166.80" lengthAdjust="spacingAndGlyphs" stroke="#000" stroke-width="0.18">HCl+anti-RAGE mAb</text>
<text x="464.60" y="141.50" font-size="18" text-anchor="start" font-weight="normal" fill="#111" textLength="204.30" lengthAdjust="spacingAndGlyphs" stroke="#000" stroke-width="0.18">HCl+recombinant sRAGE</text>
</g>
</svg>
</body>
</html>
